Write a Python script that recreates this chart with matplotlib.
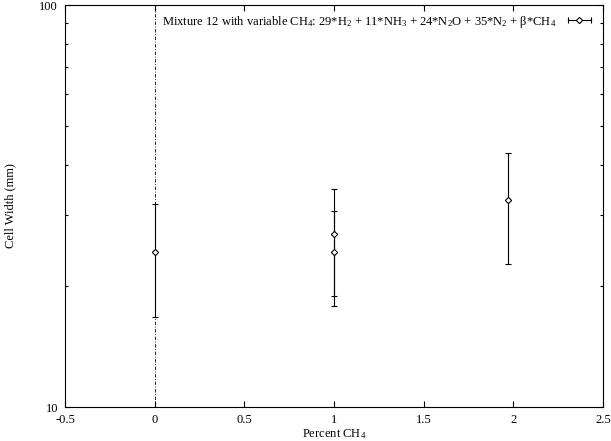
import matplotlib
matplotlib.use('Agg')
import matplotlib.pyplot as plt
from matplotlib.lines import Line2D
from matplotlib.legend_handler import HandlerLine2D, HandlerTuple
from matplotlib.ticker import LogLocator, NullFormatter, FixedLocator

plt.rcParams['font.family'] = ['Liberation Serif', 'DejaVu Serif']
plt.rcParams['mathtext.fontset'] = 'custom'
plt.rcParams['mathtext.rm'] = 'Liberation Serif'
plt.rcParams['mathtext.it'] = 'Liberation Serif:italic'
plt.rcParams['mathtext.default'] = 'regular'

# data
percent_ch4 = [0, 1, 1, 1.97]
cell_width = [24.3, 26.9, 24.3, 32.8]
cell_err = [7.6, 8.0, 6.5, 10.1]

label = (r'Mixture 12 with variable CH$_4$: 29*H$_2$ + 11*NH$_3$ + 24*N$_2$O'
         r' + 35*N$_2$ + $\beta$*CH$_4$')

fig = plt.figure(figsize=(6.11, 4.41), dpi=100)
ax = fig.add_axes([65/611, 1 - 407/441, 538/611, 402/441])

ax.errorbar(percent_ch4, cell_width, yerr=cell_err, fmt='D', color='black',
            mfc='white', mec='black', markersize=3.2, mew=0.8,
            elinewidth=0.8, capsize=2.5, capthick=0.8)

# zero axis line (gnuplot style)
ax.axvline(0, color='black', lw=0.6, ls=(0, (4, 2, 1, 2)))

ax.set_xlim(-0.5, 2.5)
ax.set_yscale('log')
ax.set_ylim(10, 100)
ax.xaxis.set_major_locator(FixedLocator([-0.5, 0, 0.5, 1, 1.5, 2, 2.5]))
ax.set_xticklabels(['-0.5', '0', '0.5', '1', '1.5', '2', '2.5'])
ax.yaxis.set_major_locator(FixedLocator([10, 100]))
ax.set_yticklabels(['10', '100'])
ax.yaxis.set_minor_locator(LogLocator(base=10, subs=range(2, 10)))
ax.yaxis.set_minor_formatter(NullFormatter())

ax.tick_params(which='both', direction='in', top=True, right=True,
               labelsize=9, width=0.8, pad=5)
ax.tick_params(which='major', length=4)
ax.tick_params(which='minor', length=2)
for s in ax.spines.values():
    s.set_linewidth(0.8)

ax.set_xlabel(r'Percent CH$_4$', fontsize=9, labelpad=1)
ax.set_ylabel('Cell Width (mm)', fontsize=9)
ax.yaxis.set_label_coords(-0.09, 0.5)

h_caps = Line2D([], [], color='black', lw=0.8, marker='|', markersize=5, mew=0.8)
h_pt = Line2D([], [], ls='none', marker='D', mfc='white', mec='black',
              markersize=3.2, mew=0.8)
ax.legend(handles=[(h_caps, h_pt)], labels=[label], loc='upper right',
          frameon=False, markerfirst=False, fontsize=9, handlelength=2.4,
          borderaxespad=0.3, handletextpad=0.6,
          handler_map={h_caps: HandlerLine2D(numpoints=2),
                       h_pt: HandlerLine2D(numpoints=1),
                       tuple: HandlerTuple(ndivide=1, pad=0)})

plt.savefig('out.png', dpi=100)
